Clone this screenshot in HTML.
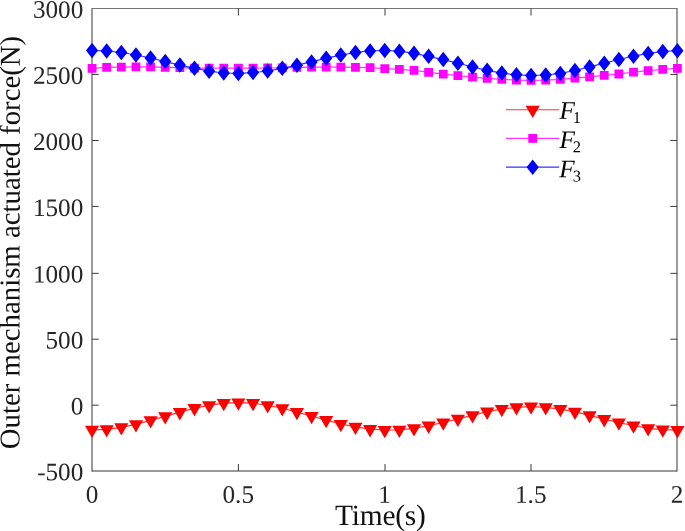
<!DOCTYPE html>
<html lang="en"><head><meta charset="utf-8"><title>Outer mechanism actuated force</title>
<style>html,body{margin:0;padding:0;background:#fff}body{width:685px;height:531px;overflow:hidden}svg{display:block;will-change:transform}text{font-family:"Liberation Serif","Times New Roman",Times,serif;fill:#262626}.tk{font-size:25.2px}.lb{font-size:28.8px;fill:#111}.lg{font-size:25.2px;font-style:italic;fill:#000}.sb{font-size:16.5px;font-style:normal}</style>
</head><body>
<svg width="685" height="531" viewBox="0 0 685 531">
<rect width="685" height="531" fill="#fff"/>
<g fill="none" stroke="#262626" stroke-width="1">
<path d="M92 8V471.5 M677 8V471.5" stroke="#343434"/>
<path d="M92 8.5H677" stroke="#757575"/>
<path d="M92 471H677" stroke="#343434"/>
<path d="M92 74.45h6.7 M677 74.45h-6.7 M92 140.5h6.7 M677 140.5h-6.7 M92 206.45h6.7 M677 206.45h-6.7 M92 273.35h6.7 M677 273.35h-6.7 M92 339.2h6.7 M677 339.2h-6.7 M92 405.2h6.7 M677 405.2h-6.7 M238.4 471v-7 M238.4 8.5v7 M385 471v-7 M385 8.5v7 M531 471v-7 M531 8.5v7" stroke="#3c3c3c"/>
</g>
<g class="tk" text-anchor="end">
<text x="83.3" y="17.9" transform="rotate(0.05 83 17.9)">3000</text>
<text x="83.3" y="83.91" transform="rotate(0.05 83 83.91)">2500</text>
<text x="83.3" y="149.97" transform="rotate(0.05 83 149.97)">2000</text>
<text x="83.3" y="215.98" transform="rotate(0.05 83 215.98)">1500</text>
<text x="83.3" y="282.47" transform="rotate(0.05 83 282.47)">1000</text>
<text x="83.3" y="348.43" transform="rotate(0.05 83 348.43)">500</text>
<text x="83.3" y="414.46" transform="rotate(0.05 83 414.46)">0</text>
<text x="83.3" y="480.4" transform="rotate(0.05 83 480.4)">-500</text>
</g>
<g class="tk" text-anchor="middle">
<text x="92" y="502.85" transform="rotate(0.05 92 502.85)">0</text>
<text x="238.25" y="502.85" transform="rotate(0.05 238.25 502.85)">0.5</text>
<text x="384.5" y="502.85" transform="rotate(0.05 384.5 502.85)">1</text>
<text x="530.75" y="502.85" transform="rotate(0.05 530.75 502.85)">1.5</text>
<text x="677" y="502.85" transform="rotate(0.05 677 502.85)">2</text>
</g>
<text class="lb" style="font-size:29.4px" x="335" y="525" transform="rotate(0.05 380 525)" textLength="90.9" lengthAdjust="spacing">Time(s)</text>
<text class="lb" text-anchor="middle" transform="translate(19.6 242.5) rotate(-89.95)">Outer mechanism actuated force(N)</text>
<g>
<polyline fill="none" stroke="#ff0000" stroke-width="1.2" stroke-opacity="0.8" points="92.05,429.9 106.68,429.4 121.32,427.4 135.95,424.3 150.58,420.4 165.22,416.3 179.85,412.2 194.49,408.2 209.12,405.3 223.75,403.1 238.39,402.6 253.02,403.1 267.65,405.3 282.29,408.25 296.92,412.1 311.56,416 326.19,420.1 340.82,424 355.46,426.9 370.09,429.2 384.73,430 399.36,429.8 413.99,428.3 428.63,425.7 443.26,422.5 457.89,418.8 472.53,415.3 487.16,411.7 501.8,409.1 516.43,407.3 531.06,406.6 545.7,407.3 560.33,409.1 574.96,411.8 589.6,415.3 604.23,419.2 618.87,422.6 633.5,425.5 648.13,428.4 662.77,429.6 677.4,430.2"/>
<path fill="#ff0000" d="M84.95 425.8L99.15 425.8L92.05 438.1ZM99.58 425.3L113.78 425.3L106.68 437.6ZM114.22 423.3L128.42 423.3L121.32 435.6ZM128.85 420.2L143.05 420.2L135.95 432.5ZM143.48 416.3L157.68 416.3L150.58 428.6ZM158.12 412.2L172.32 412.2L165.22 424.5ZM172.75 408.1L186.95 408.1L179.85 420.4ZM187.39 404.1L201.59 404.1L194.49 416.4ZM202.02 401.2L216.22 401.2L209.12 413.5ZM216.65 399L230.85 399L223.75 411.3ZM231.29 398.5L245.49 398.5L238.39 410.8ZM245.92 399L260.12 399L253.02 411.3ZM260.55 401.2L274.75 401.2L267.65 413.5ZM275.19 404.15L289.39 404.15L282.29 416.45ZM289.82 408L304.02 408L296.92 420.3ZM304.46 411.9L318.66 411.9L311.56 424.2ZM319.09 416L333.29 416L326.19 428.3ZM333.72 419.9L347.92 419.9L340.82 432.2ZM348.36 422.8L362.56 422.8L355.46 435.1ZM362.99 425.1L377.19 425.1L370.09 437.4ZM377.62 425.9L391.83 425.9L384.73 438.2ZM392.26 425.7L406.46 425.7L399.36 438ZM406.89 424.2L421.09 424.2L413.99 436.5ZM421.53 421.6L435.73 421.6L428.63 433.9ZM436.16 418.4L450.36 418.4L443.26 430.7ZM450.79 414.7L464.99 414.7L457.89 427ZM465.43 411.2L479.63 411.2L472.53 423.5ZM480.06 407.6L494.26 407.6L487.16 419.9ZM494.69 405L508.9 405L501.8 417.3ZM509.33 403.2L523.53 403.2L516.43 415.5ZM523.96 402.5L538.16 402.5L531.06 414.8ZM538.6 403.2L552.8 403.2L545.7 415.5ZM553.23 405L567.43 405L560.33 417.3ZM567.86 407.7L582.06 407.7L574.96 420ZM582.5 411.2L596.7 411.2L589.6 423.5ZM597.13 415.1L611.33 415.1L604.23 427.4ZM611.76 418.5L625.97 418.5L618.87 430.8ZM626.4 421.4L640.6 421.4L633.5 433.7ZM641.03 424.3L655.23 424.3L648.13 436.6ZM655.67 425.5L669.87 425.5L662.77 437.8ZM670.3 426.1L684.5 426.1L677.4 438.4Z"/>
</g>
<g>
<polyline fill="none" stroke="#ff00ff" stroke-width="1.2" stroke-opacity="0.8" points="92.05,68.3 106.68,67.4 121.32,67.1 135.95,66.9 150.58,66.9 165.22,67.4 179.85,67.7 194.49,68.1 209.12,68.2 223.75,68.2 238.39,68.2 253.02,68.2 267.65,68 282.29,67.8 296.92,67.4 311.56,67.1 326.19,67.1 340.82,67.05 355.46,67.3 370.09,67.7 384.73,68.6 399.36,69.45 413.99,70.45 428.63,72.3 443.26,74.2 457.89,75.55 472.53,77.1 487.16,78.3 501.8,79.3 516.43,80.1 531.06,80.4 545.7,80.1 560.33,79.3 574.96,78.2 589.6,76.9 604.23,75.4 618.87,74 633.5,72.2 648.13,70.6 662.77,69.3 677.4,68.4"/>
<path fill="#ff00ff" d="M87.65 63.9h8.8v8.8h-8.8ZM102.28 63h8.8v8.8h-8.8ZM116.92 62.7h8.8v8.8h-8.8ZM131.55 62.5h8.8v8.8h-8.8ZM146.18 62.5h8.8v8.8h-8.8ZM160.82 63h8.8v8.8h-8.8ZM175.45 63.3h8.8v8.8h-8.8ZM190.09 63.7h8.8v8.8h-8.8ZM204.72 63.8h8.8v8.8h-8.8ZM219.35 63.8h8.8v8.8h-8.8ZM233.99 63.8h8.8v8.8h-8.8ZM248.62 63.8h8.8v8.8h-8.8ZM263.25 63.6h8.8v8.8h-8.8ZM277.89 63.4h8.8v8.8h-8.8ZM292.52 63h8.8v8.8h-8.8ZM307.16 62.7h8.8v8.8h-8.8ZM321.79 62.7h8.8v8.8h-8.8ZM336.42 62.65h8.8v8.8h-8.8ZM351.06 62.9h8.8v8.8h-8.8ZM365.69 63.3h8.8v8.8h-8.8ZM380.33 64.2h8.8v8.8h-8.8ZM394.96 65.05h8.8v8.8h-8.8ZM409.59 66.05h8.8v8.8h-8.8ZM424.23 67.9h8.8v8.8h-8.8ZM438.86 69.8h8.8v8.8h-8.8ZM453.49 71.15h8.8v8.8h-8.8ZM468.13 72.7h8.8v8.8h-8.8ZM482.76 73.9h8.8v8.8h-8.8ZM497.4 74.9h8.8v8.8h-8.8ZM512.03 75.7h8.8v8.8h-8.8ZM526.66 76h8.8v8.8h-8.8ZM541.3 75.7h8.8v8.8h-8.8ZM555.93 74.9h8.8v8.8h-8.8ZM570.56 73.8h8.8v8.8h-8.8ZM585.2 72.5h8.8v8.8h-8.8ZM599.83 71h8.8v8.8h-8.8ZM614.47 69.6h8.8v8.8h-8.8ZM629.1 67.8h8.8v8.8h-8.8ZM643.73 66.2h8.8v8.8h-8.8ZM658.37 64.9h8.8v8.8h-8.8ZM673 64h8.8v8.8h-8.8Z"/>
</g>
<g>
<polyline fill="none" stroke="#0000ff" stroke-width="1.2" stroke-opacity="0.8" points="92.05,50.45 106.68,51 121.32,52.5 135.95,55 150.58,58 165.22,61.6 179.85,65.1 194.49,68.2 209.12,71.2 223.75,73 238.39,73.4 253.02,72.6 267.65,71 282.29,68.35 296.92,65.2 311.56,61.9 326.19,58.2 340.82,55.1 355.46,52.5 370.09,50.9 384.73,50.5 399.36,51.2 413.99,53.3 428.63,56.3 443.26,59.6 457.89,63.2 472.53,67 487.16,70.3 501.8,73.1 516.43,74.8 531.06,75.5 545.7,75 560.33,73.4 574.96,70.5 589.6,66.9 604.23,63.2 618.87,59.5 633.5,56.2 648.13,53.4 662.77,51.5 677.4,50.7"/>
<path fill="#0000ff" d="M92.05 42.7L98.15 50.45L92.05 58.2L85.95 50.45ZM106.68 43.25L112.78 51L106.68 58.75L100.58 51ZM121.32 44.75L127.42 52.5L121.32 60.25L115.22 52.5ZM135.95 47.25L142.05 55L135.95 62.75L129.85 55ZM150.58 50.25L156.68 58L150.58 65.75L144.48 58ZM165.22 53.85L171.32 61.6L165.22 69.35L159.12 61.6ZM179.85 57.35L185.95 65.1L179.85 72.85L173.75 65.1ZM194.49 60.45L200.59 68.2L194.49 75.95L188.39 68.2ZM209.12 63.45L215.22 71.2L209.12 78.95L203.02 71.2ZM223.75 65.25L229.85 73L223.75 80.75L217.65 73ZM238.39 65.65L244.49 73.4L238.39 81.15L232.29 73.4ZM253.02 64.85L259.12 72.6L253.02 80.35L246.92 72.6ZM267.65 63.25L273.75 71L267.65 78.75L261.55 71ZM282.29 60.6L288.39 68.35L282.29 76.1L276.19 68.35ZM296.92 57.45L303.02 65.2L296.92 72.95L290.82 65.2ZM311.56 54.15L317.66 61.9L311.56 69.65L305.46 61.9ZM326.19 50.45L332.29 58.2L326.19 65.95L320.09 58.2ZM340.82 47.35L346.92 55.1L340.82 62.85L334.72 55.1ZM355.46 44.75L361.56 52.5L355.46 60.25L349.36 52.5ZM370.09 43.15L376.19 50.9L370.09 58.65L363.99 50.9ZM384.73 42.75L390.83 50.5L384.73 58.25L378.62 50.5ZM399.36 43.45L405.46 51.2L399.36 58.95L393.26 51.2ZM413.99 45.55L420.09 53.3L413.99 61.05L407.89 53.3ZM428.63 48.55L434.73 56.3L428.63 64.05L422.53 56.3ZM443.26 51.85L449.36 59.6L443.26 67.35L437.16 59.6ZM457.89 55.45L463.99 63.2L457.89 70.95L451.79 63.2ZM472.53 59.25L478.63 67L472.53 74.75L466.43 67ZM487.16 62.55L493.26 70.3L487.16 78.05L481.06 70.3ZM501.8 65.35L507.9 73.1L501.8 80.85L495.69 73.1ZM516.43 67.05L522.53 74.8L516.43 82.55L510.33 74.8ZM531.06 67.75L537.16 75.5L531.06 83.25L524.96 75.5ZM545.7 67.25L551.8 75L545.7 82.75L539.6 75ZM560.33 65.65L566.43 73.4L560.33 81.15L554.23 73.4ZM574.96 62.75L581.06 70.5L574.96 78.25L568.86 70.5ZM589.6 59.15L595.7 66.9L589.6 74.65L583.5 66.9ZM604.23 55.45L610.33 63.2L604.23 70.95L598.13 63.2ZM618.87 51.75L624.97 59.5L618.87 67.25L612.76 59.5ZM633.5 48.45L639.6 56.2L633.5 63.95L627.4 56.2ZM648.13 45.65L654.23 53.4L648.13 61.15L642.03 53.4ZM662.77 43.75L668.87 51.5L662.77 59.25L656.67 51.5ZM677.4 42.95L683.5 50.7L677.4 58.45L671.3 50.7Z"/>
</g>
<g>
<path d="M506 109.75H559.2" fill="none" stroke="#ff0000" stroke-width="1.2" stroke-opacity="0.8"/>
<path fill="#ff0000" d="M525.6 105.65L539.8 105.65L532.7 117.95Z"/>
<text class="lg" x="559.4" y="118.7" transform="rotate(0.05 559 150)">F<tspan class="sb" dy="4.2" dx="-2">1</tspan></text>
<path d="M506 138.4H559.2" fill="none" stroke="#ff00ff" stroke-width="1.2" stroke-opacity="0.8"/>
<path fill="#ff00ff" d="M528.3 134h8.8v8.8h-8.8Z"/>
<text class="lg" x="559.4" y="147.95" transform="rotate(0.05 559 150)">F<tspan class="sb" dy="4.2" dx="-2">2</tspan></text>
<path d="M506 167.15H559.2" fill="none" stroke="#0000ff" stroke-width="1.2" stroke-opacity="0.8"/>
<path fill="#0000ff" d="M532.7 159.4L538.8 167.15L532.7 174.9L526.6 167.15Z"/>
<text class="lg" x="559.4" y="177.2" transform="rotate(0.05 559 150)">F<tspan class="sb" dy="4.2" dx="-2">3</tspan></text>
</g>
</svg>
</body></html>
